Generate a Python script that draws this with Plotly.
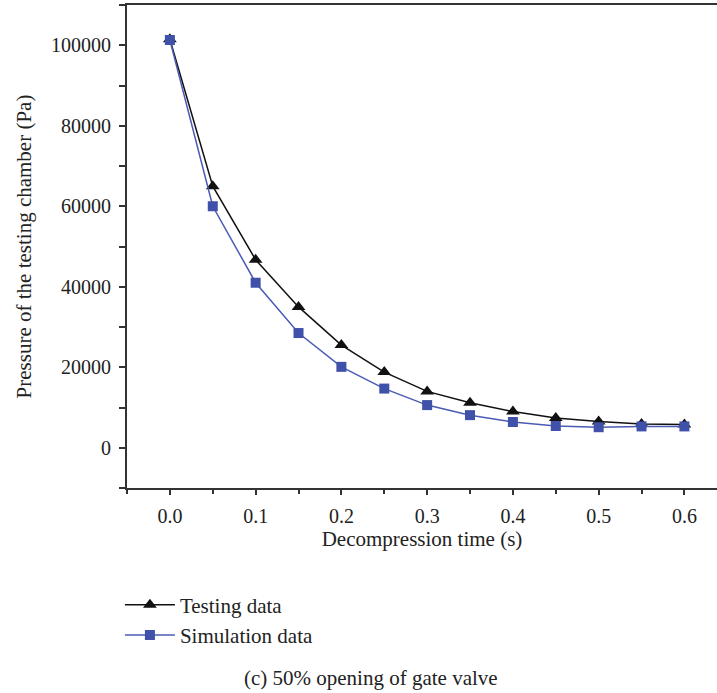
import plotly.graph_objects as go

# Decompression time (s)
time_s = [0.0, 0.05, 0.10, 0.15, 0.20, 0.25, 0.30, 0.35, 0.40, 0.45, 0.50, 0.55, 0.60]

# Chamber pressure (Pa)
testing_pa = [101500, 65000, 46700, 35000, 25500, 18800, 14000, 11200, 9000, 7400, 6500, 5900, 5800]
simulation_pa = [101300, 60000, 41000, 28500, 20100, 14700, 10600, 8100, 6400, 5400, 5100, 5300, 5300]

series_names = ["Testing data", "Simulation data"]
caption = "(c) 50% opening of gate valve"
x_title = "Decompression time (s)"
y_title = "Pressure of the testing chamber (Pa)"

FONT = "Liberation Serif"
AXIS_COLOR = "#333333"
TEXT_COLOR = "#222222"

fig = go.Figure()
fig.add_trace(go.Scatter(
    x=time_s, y=testing_pa, name=series_names[0], mode="lines+markers",
    line=dict(color="#111111", width=1.5),
    marker=dict(symbol="triangle-up", size=12, color="#111111"),
))
fig.add_trace(go.Scatter(
    x=time_s, y=simulation_pa, name=series_names[1], mode="lines+markers",
    line=dict(color="#4a5bb5", width=1.5),
    marker=dict(symbol="square", size=10, color="#3f51a8"),
))

fig.update_layout(
    width=717, height=693,
    margin=dict(l=127, r=0, t=5, b=205),
    plot_bgcolor="white", paper_bgcolor="white",
    font=dict(family=FONT, size=21, color=TEXT_COLOR),
    showlegend=True,
    legend=dict(
        x=-0.012, y=-0.2, xanchor="left", yanchor="top",
        font=dict(family=FONT, size=21, color=TEXT_COLOR),
        itemwidth=50, tracegroupgap=2,
        bgcolor="rgba(0,0,0,0)",
    ),
    annotations=[dict(
        text=caption, xref="paper", yref="paper",
        x=0.414, y=-0.393, xanchor="center", yanchor="middle",
        showarrow=False, font=dict(family=FONT, size=21, color=TEXT_COLOR),
    )],
)

fig.update_xaxes(
    range=[-0.05, 0.638], showgrid=False, zeroline=False,
    showline=True, linecolor=AXIS_COLOR, linewidth=2, mirror=True,
    ticks="outside", ticklen=5, tickwidth=1.5, tickcolor=AXIS_COLOR,
    tick0=0, dtick=0.1, tickformat=".1f", ticklabelstandoff=4,
    minor=dict(ticks="outside", ticklen=4, tickwidth=1.5, tickcolor=AXIS_COLOR, dtick=0.05, tick0=0),
    title=dict(text=x_title, standoff=5, font=dict(family=FONT, size=21)),
    tickfont=dict(family=FONT, size=20),
)
fig.update_yaxes(
    range=[-10000, 110000], showgrid=False, zeroline=False,
    showline=True, linecolor=AXIS_COLOR, linewidth=2,
    ticks="outside", ticklen=6, tickwidth=1.5, tickcolor=AXIS_COLOR,
    tick0=0, dtick=20000, tickformat="d", ticklabelstandoff=4,
    minor=dict(ticks="outside", ticklen=6, tickwidth=1.5, tickcolor=AXIS_COLOR, dtick=10000, tick0=0),
    title=dict(text=y_title, standoff=14, font=dict(family=FONT, size=21)),
    tickfont=dict(family=FONT, size=20),
)

fig.write_html("out.html")
